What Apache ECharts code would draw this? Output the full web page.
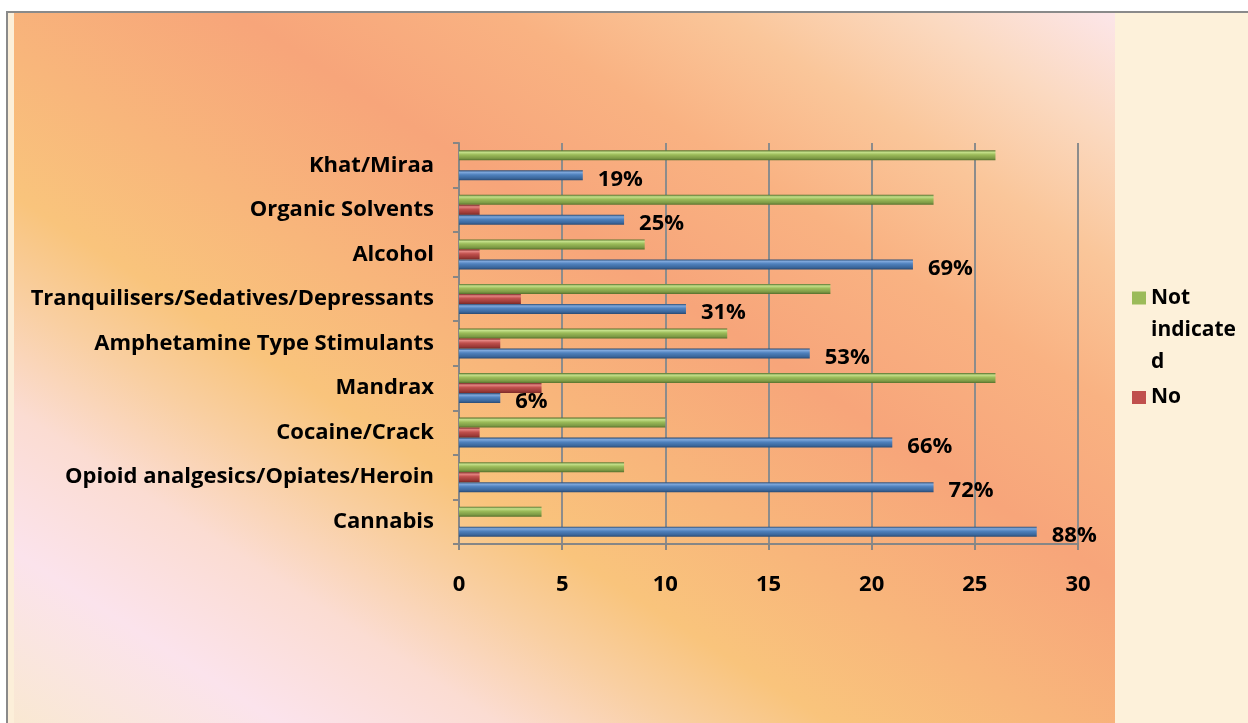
<!DOCTYPE html>
<html>
<head>
<meta charset="utf-8">
<script src="https://cdn.jsdelivr.net/npm/echarts@6/dist/echarts.min.js"></script>
<style>
html,body{margin:0;padding:0;background:#ffffff;}
#chart{width:1248px;height:723px;}
</style>
</head>
<body>
<div id="chart"></div>
<script>
// Categories, bottom to top
var categories = ['Cannabis','Opioid analgesics/Opiates/Heroin','Cocaine/Crack','Mandrax','Amphetamine Type Stimulants','Tranquilisers/Sedatives/Depressants','Alcohol','Organic Solvents','Khat/Miraa'];
var yesValues = [28, 23, 21, 2, 17, 11, 22, 8, 6];
var noValues = [0, 1, 1, 4, 2, 3, 1, 1, 0];
var notIndicatedValues = [4, 8, 10, 26, 13, 18, 9, 23, 26];
var yesPercentLabels = ['88%','72%','66%','6%','53%','31%','69%','25%','19%'];
var xTicks = [0, 5, 10, 15, 20, 25, 30];

var FONT = '"Open Sans", "Liberation Sans", sans-serif';
var chart = echarts.init(document.getElementById('chart'));
var G = echarts.graphic.LinearGradient;

function barGrad(light, base, dark, edge) {
  return new G(0, 0, 0, 1, [
    {offset: 0, color: edge},
    {offset: 0.2, color: light},
    {offset: 0.45, color: base},
    {offset: 0.8, color: dark},
    {offset: 1, color: edge}
  ]);
}

var option = {
  backgroundColor: '#ffffff',
  animation: false,
  graphic: [
    {type: 'rect', z: -100, silent: true, shape: {x: 14, y: 12, width: 1101, height: 711},
      style: {fill: new G(241, 869, 889, -135, [
        {offset: 0, color: '#f9e8d2'},
        {offset: 0.12, color: '#fbe3ec'},
        {offset: 0.22, color: '#fbdcd2'},
        {offset: 0.30, color: '#f9cfa2'},
        {offset: 0.37, color: '#f9c47c'},
        {offset: 0.47, color: '#f8b67b'},
        {offset: 0.60, color: '#f7a57a'},
        {offset: 0.72, color: '#f9b282'},
        {offset: 0.82, color: '#fac69a'},
        {offset: 0.91, color: '#fbd9c0'},
        {offset: 1, color: '#fce6ea'}
      ], true)}},
    {type: 'rect', z: -100, silent: true, shape: {x: 8, y: 12, width: 6, height: 711}, style: {fill: '#fcefd9'}},
    {type: 'rect', z: -100, silent: true, shape: {x: 1115, y: 12, width: 133, height: 711}, style: {fill: '#fdf1da'}},
    {type: 'line', z: -50, silent: true, shape: {x1: 6, y1: 12, x2: 1248, y2: 12}, style: {stroke: '#8a8a8a', lineWidth: 2}},
    {type: 'line', z: -50, silent: true, shape: {x1: 7, y1: 11, x2: 7, y2: 723}, style: {stroke: '#8a8a8a', lineWidth: 2}}
  ],
  grid: {left: 459, right: 170, top: 143, bottom: 179, containLabel: false},
  legend: [
    {
      data: [{name: 'Not indicated', itemStyle: {color: '#9bbb59'}}],
      orient: 'vertical', left: 1132, top: 218, padding: 0,
      itemWidth: 14, itemHeight: 13, icon: 'rect', selectedMode: false,
      formatter: function (name) { return '\n\n' + name; },
      textStyle: {fontFamily: FONT, fontWeight: 'bold', fontSize: 21, color: '#000',
        width: 90, overflow: 'break', lineHeight: 32}
    },
    {
      data: [{name: 'No', itemStyle: {color: '#c0504d'}}],
      orient: 'vertical', left: 1132, top: 381.5, padding: 0,
      itemWidth: 14, itemHeight: 13, icon: 'rect', selectedMode: false,
      textStyle: {fontFamily: FONT, fontWeight: 'bold', fontSize: 21, color: '#000', lineHeight: 32}
    }
  ],
  xAxis: {
    type: 'value', min: 0, max: 30, interval: 5,
    axisLine: {show: true, lineStyle: {color: '#868686', width: 2}},
    axisTick: {show: true, length: 6, lineStyle: {color: '#868686', width: 2}},
    splitLine: {show: true, lineStyle: {color: '#8c8c8c', width: 2}},
    axisLabel: {margin: 30, fontFamily: FONT, fontWeight: 'bold', fontSize: 22, color: '#000',
      formatter: function (v) { return xTicks.indexOf(v) >= 0 ? String(v) : ''; }}
  },
  yAxis: {
    type: 'category', data: categories,
    axisLine: {show: true, lineStyle: {color: '#868686', width: 2}},
    axisTick: {show: true, length: 6, lineStyle: {color: '#868686', width: 2}},
    axisLabel: {margin: 25, fontFamily: FONT, fontWeight: 'bold', fontSize: 22, color: '#000'}
  },
  series: [
    {
      name: 'Not indicated', type: 'bar', data: notIndicatedValues, barWidth: 10, barGap: '0%',
      itemStyle: {color: barGrad('#c4e08a', '#9bbb59', '#7d9a45', '#56702c')}
    },
    {
      name: 'No', type: 'bar', data: noValues, barWidth: 10, barGap: '0%',
      itemStyle: {color: barGrad('#e48481', '#c0504d', '#9c3a37', '#7a2a28')}
    },
    {
      name: 'Yes', type: 'bar', data: yesValues, barWidth: 10, barGap: '0%',
      itemStyle: {color: barGrad('#7fa8dc', '#4f81bd', '#3b679c', '#2a4a72')},
      label: {show: true, position: 'right', distance: 15, offset: [0, 4],
        fontFamily: FONT, fontWeight: 'bold', fontSize: 22, color: '#000',
        formatter: function (p) { return yesPercentLabels[p.dataIndex]; }}
    }
  ]
};
chart.setOption(option);
</script>
</body>
</html>
